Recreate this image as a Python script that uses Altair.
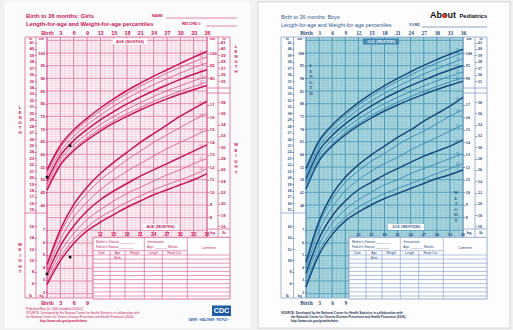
import altair as alt
import pandas as pd

# ---------------- chart values ----------------
AGES = [0, 3, 6, 9, 12, 15, 18, 21, 24, 27, 30, 33, 36]
PERCENTILES = [5, 10, 25, 50, 75, 90, 95]
MAJOR_PCTS = [5, 50, 95]

GIRLS_LENGTH = {
    5:  [45.9, 55.7, 61.4, 65.6, 69.2, 72.3, 75.0, 77.5, 79.8, 81.9, 83.8, 85.5, 87.2],
    10: [46.7, 56.5, 62.2, 66.5, 70.1, 73.2, 76.0, 78.5, 80.9, 83.0, 85.0, 86.8, 88.5],
    25: [48.1, 57.9, 63.7, 68.0, 71.7, 74.9, 77.8, 80.4, 82.8, 85.1, 87.1, 89.0, 90.8],
    50: [49.6, 59.5, 65.4, 69.8, 73.6, 76.9, 79.9, 82.6, 85.1, 87.4, 89.6, 91.6, 93.4],
    75: [51.2, 61.1, 67.1, 71.6, 75.5, 79.0, 82.1, 84.9, 87.5, 89.9, 92.1, 94.2, 96.1],
    90: [52.8, 62.6, 68.6, 73.2, 77.2, 80.8, 84.0, 86.9, 89.6, 92.1, 94.4, 96.5, 98.5],
    95: [53.8, 63.5, 69.6, 74.2, 78.3, 81.9, 85.2, 88.1, 90.9, 93.4, 95.9, 98.4, 100.6],
}
BOYS_LENGTH = {
    5:  [46.3, 57.4, 63.3, 67.7, 71.3, 74.4, 77.1, 79.5, 81.7, 83.7, 85.6, 87.3, 88.9],
    10: [47.1, 58.2, 64.1, 68.6, 72.2, 75.4, 78.1, 80.6, 82.8, 84.9, 86.8, 88.6, 90.2],
    25: [48.6, 59.7, 65.7, 70.2, 73.9, 77.2, 80.0, 82.5, 84.8, 87.0, 89.0, 90.8, 92.5],
    50: [50.3, 61.4, 67.4, 72.0, 75.8, 79.1, 82.1, 84.7, 87.1, 89.3, 91.4, 93.3, 95.1],
    75: [52.0, 63.0, 69.1, 73.7, 77.7, 81.1, 84.1, 86.8, 89.3, 91.7, 93.8, 95.8, 97.7],
    90: [53.5, 64.5, 70.6, 75.3, 79.4, 82.9, 86.0, 88.8, 91.4, 93.8, 96.0, 98.1, 100.0],
    95: [54.4, 65.4, 71.6, 76.3, 80.4, 84.0, 87.1, 90.0, 92.6, 95.1, 97.4, 99.5, 101.5],
}
GIRLS_WEIGHT = {
    5:  [2.6, 4.5, 5.9, 6.9, 7.6, 8.2, 8.8, 9.3, 9.8, 10.2, 10.6, 11.0, 11.5],
    10: [2.8, 4.8, 6.2, 7.2, 8.0, 8.6, 9.2, 9.7, 10.2, 10.6, 11.0, 11.4, 11.9],
    25: [3.1, 5.2, 6.7, 7.8, 8.6, 9.3, 9.9, 10.4, 10.9, 11.4, 11.8, 12.3, 12.7],
    50: [3.4, 5.7, 7.3, 8.5, 9.4, 10.1, 10.7, 11.3, 11.8, 12.3, 12.8, 13.3, 13.8],
    75: [3.7, 6.2, 8.0, 9.2, 10.2, 11.0, 11.7, 12.3, 12.9, 13.5, 14.0, 14.5, 15.0],
    90: [4.0, 6.7, 8.6, 9.9, 11.0, 11.8, 12.6, 13.3, 14.0, 14.6, 15.2, 15.8, 16.3],
    95: [4.2, 7.0, 9.0, 10.4, 11.5, 12.4, 13.2, 14.0, 14.7, 15.4, 16.1, 16.7, 17.3],
}
BOYS_WEIGHT = {
    5:  [2.4, 5.0, 6.6, 7.7, 8.4, 9.0, 9.5, 9.9, 10.3, 10.7, 11.1, 11.4, 11.8],
    10: [2.7, 5.3, 6.9, 8.0, 8.8, 9.4, 9.9, 10.3, 10.7, 11.1, 11.5, 11.9, 12.3],
    25: [3.1, 5.8, 7.5, 8.6, 9.4, 10.0, 10.6, 11.0, 11.5, 11.9, 12.3, 12.7, 13.1],
    50: [3.5, 6.3, 8.1, 9.3, 10.2, 10.8, 11.4, 11.9, 12.4, 12.9, 13.3, 13.7, 14.2],
    75: [3.9, 6.9, 8.8, 10.1, 11.0, 11.7, 12.3, 12.8, 13.4, 13.9, 14.4, 14.9, 15.4],
    90: [4.2, 7.4, 9.4, 10.8, 11.7, 12.5, 13.1, 13.8, 14.4, 14.9, 15.5, 16.1, 16.6],
    95: [4.4, 7.7, 9.8, 11.2, 12.2, 13.0, 13.7, 14.4, 15.0, 15.7, 16.3, 16.9, 17.6],
}
GIRLS_VISIT_AGE = [0, 5.2]
GIRLS_VISIT_LENGTH = [51.0, 63.4]
GIRLS_VISIT_WEIGHT = [3.45, 4.8]

TOP_TICKS = [0, 3, 6, 9, 12, 15, 18, 21, 24, 27, 30, 33, 36]
BOTTOM_TICKS = [0, 3, 6, 9]
TABLE_ROW_TICKS = [12, 15, 18, 21, 24, 27, 30, 33, 36]
CM_LEFT = [40, 45, 50, 55, 60, 65, 70, 75, 80, 85, 90, 95, 100]
CM_RIGHT = [90, 95, 100]
IN_LEFT = list(range(15, 42))
IN_RIGHT = list(range(35, 42))
KG_LEFT = [2, 3, 4, 5, 6, 7]
KG_RIGHT = list(range(8, 18))
LB_LEFT = [6, 8, 10, 12, 14, 16]
LB_RIGHT = list(range(16, 39, 2))
GRID_CM = list(range(4, 107))

# ---------------- layout (page pixels) ----------------
PAGE_W, PAGE_H = 513, 330
TOP, BOT = 37, 298
CM_DOM = [3.29, 106.32]
KG_DOM = [1.52, 22.45]
IN_DOM = [v / 2.54 for v in CM_DOM]
LB_DOM = [v * 2.20462 for v in KG_DOM]
DUMMY = pd.DataFrame({"d": [0]})

GIRLS_STYLE = dict(
    x0=47, W=160, page=(5, 250), page_fill="#fcfbfb", page_stroke="#fcfbfb",
    fill="#fdf4f7", grid_minor="#f0bcd0", grid_major="#dd7aa0",
    thick="#c8135b", thin="#d85187", text="#c8135b", table="#d65186",
    font="Liberation Sans", axis_font="Liberation Sans",
    cols_left=(25, 36, 47), cols_right=(207, 218, 230),
    table_x=(93, 110, 125, 144.3, 162.3, 187.3, 230),
    length=GIRLS_LENGTH, weight=GIRLS_WEIGHT,
)
BOYS_STYLE = dict(
    x0=306, W=157, page=(258, 510), page_fill="#fdfdfd", page_stroke="#c9cdd0",
    fill="#a9d5de", grid_minor="#86c1cf", grid_major="#4a95b2",
    thick="#174a7e", thin="#2c7fb1", text="#1d4a7c", table="#7d96c6",
    font="Liberation Sans", axis_font="Liberation Serif",
    cols_left=(281, 293.5, 306), cols_right=(463, 475, 487),
    table_x=(349, 366, 382, 400.3, 418.7, 443.3, 487),
    length=BOYS_LENGTH, weight=BOYS_WEIGHT,
)

TABLE_TOP = 237.3
TABLE_HEAD = 250.7
TABLE_ROWS = [255, 259.1, 263.2, 267.3, 271.4, 275.5, 279.6, 283.7, 287.8, 291.9, 296]


def long_df(d):
    rows = []
    for p in PERCENTILES:
        for a, v in zip(AGES, d[p]):
            rows.append({"age": a, "value": v, "pct": p})
    return pd.DataFrame(rows)


def end_labels(d):
    rows = []
    for p in PERCENTILES:
        v = d[p][-2] * 0.45 + d[p][-1] * 0.55
        rows.append({"age": 34.7, "value": v, "lab": str(p)})
    return pd.DataFrame(rows)


def panel(st, girls):
    x0, W = st["x0"], st["W"]
    x1 = x0 + W
    xs = alt.Scale(domain=[0, 36], range=[x0, x1], nice=False, zero=False)
    cm_sc = alt.Scale(domain=CM_DOM, range=[BOT, TOP], nice=False, zero=False)
    kg_sc = alt.Scale(domain=KG_DOM, range=[BOT, TOP], nice=False, zero=False)
    in_sc = alt.Scale(domain=IN_DOM, range=[BOT, TOP], nice=False, zero=False)
    lb_sc = alt.Scale(domain=LB_DOM, range=[BOT, TOP], nice=False, zero=False)

    def ax(orient, values, pos, **kw):
        if orient == "left":
            off = -pos
        elif orient == "right":
            off = pos - PAGE_W
        elif orient == "top":
            off = -pos
        else:
            off = pos - PAGE_H
        base = dict(orient=orient, values=values, offset=off,
                    labelFont=st["axis_font"], labelFontSize=4.2, labelFontWeight="bold",
                    labelColor=st["text"], tickColor=st["text"], tickSize=1.5, tickWidth=0.6,
                    domain=False, grid=False, title=None, labelPadding=0.8, zindex=1,
                    labelOverlap=False, labelFlush=False)
        base.update(kw)
        return alt.Axis(**base)

    def txt(s, px, py, size, color=None, weight="normal", align="left", font=None,
            baseline="middle", line_height=None):
        props = dict(fontSize=size, color=color or st["text"], fontWeight=weight,
                     align=align, font=font or st["font"], baseline=baseline)
        if line_height:
            props.update(lineBreak="\n", lineHeight=line_height)
        return alt.Chart(DUMMY).mark_text(**props).encode(
            x=alt.value(px), y=alt.value(py), text=alt.value(s))

    def prect(a, b, c, d, fill, stroke=None, sw=0.6):
        props = dict(fill=fill)
        if stroke:
            props.update(stroke=stroke, strokeWidth=sw)
        return alt.Chart(DUMMY).mark_rect(**props).encode(
            x=alt.value(a), x2=alt.value(b), y=alt.value(c), y2=alt.value(d))

    def segs_layer(segs, color, sw):
        df = pd.DataFrame([{"a": a, "b": b, "c": c, "d": d} for a, b, c, d in segs])
        return alt.Chart(df).mark_rule(color=color, strokeWidth=sw).encode(
            x=alt.X("a:Q", scale=None, axis=None), x2="b:Q",
            y=alt.Y("c:Q", scale=None, axis=None), y2="d:Q")

    layers = []
    # page and grid background
    layers.append(prect(st["page"][0], st["page"][1], 2, 328, st["page_fill"], st["page_stroke"], 0.8))
    layers.append(prect(x0, x1, TOP, BOT, st["fill"]))

    # grid
    layers.append(alt.Chart(pd.DataFrame({"m": list(range(37))})).mark_rule(
        color=st["grid_minor"], strokeWidth=0.5).encode(
        x=alt.X("m:Q", scale=xs, axis=None), y=alt.value(TOP), y2=alt.value(BOT)))
    layers.append(alt.Chart(pd.DataFrame({"c": GRID_CM})).mark_rule(
        color=st["grid_minor"], strokeWidth=0.45).encode(
        y=alt.Y("c:Q", scale=cm_sc, axis=None), x=alt.value(x0), x2=alt.value(x1)))
    layers.append(alt.Chart(pd.DataFrame({"m": TOP_TICKS})).mark_rule(
        color=st["grid_major"], strokeWidth=0.9).encode(
        x=alt.X("m:Q", scale=xs,
                axis=ax("top", TOP_TICKS, TOP, labelFontSize=5.4, tickSize=0, labelPadding=1.5,
                        labelExpr="datum.value == 0 ? 'Birth' : datum.label")),
        y=alt.value(TOP), y2=alt.value(BOT)))
    layers.append(alt.Chart(pd.DataFrame({"c": [v for v in GRID_CM if v % 5 == 0]})).mark_rule(
        color=st["grid_major"], strokeWidth=0.8).encode(
        y=alt.Y("c:Q", scale=cm_sc, axis=ax("left", CM_LEFT, x0)),
        x=alt.value(x0), x2=alt.value(x1)))

    # column / frame lines
    cl, cr = st["cols_left"], st["cols_right"]
    tx = st["table_x"]
    segs = []
    for c in cl:
        segs.append((c, c, TOP, BOT))
    for c in cr:
        segs.append((c, c, TOP, TABLE_TOP))
    segs += [(cl[0], cr[2], TOP, TOP), (cl[0], tx[0], BOT, BOT), (cl[0], cl[2], 213, 213),
             (cr[0], cr[2], 88, 88), (cr[0], cr[2], 93, 93), (cr[0], cr[2], 229, 229)]
    layers.append(segs_layer(segs, st["table"], 0.7))

    thick = alt.FieldOneOfPredicate(field="pct", oneOf=MAJOR_PCTS)
    layers.append(alt.Chart(long_df(st["length"])).mark_line(interpolate="monotone").encode(
        x=alt.X("age:Q", scale=xs, axis=None),
        y=alt.Y("value:Q", scale=cm_sc, axis=ax("right", CM_RIGHT, x1)),
        detail="pct:N",
        color=alt.condition(thick, alt.value(st["thick"]), alt.value(st["thin"])),
        strokeWidth=alt.condition(thick, alt.value(1.5), alt.value(0.8))))
    layers.append(alt.Chart(end_labels(st["length"])).mark_text(
        fontSize=3.0, color=st["thin"], dy=-2.2, font=st["font"]).encode(
        x=alt.X("age:Q", scale=xs, axis=None), y=alt.Y("value:Q", scale=cm_sc, axis=None), text="lab:N"))
    layers.append(alt.Chart(long_df(st["weight"])).mark_line(interpolate="monotone").encode(
        x=alt.X("age:Q", scale=xs, axis=None),
        y=alt.Y("value:Q", scale=kg_sc, axis=ax("right", KG_RIGHT, x1)),
        detail="pct:N",
        color=alt.condition(thick, alt.value(st["thick"]), alt.value(st["thin"])),
        strokeWidth=alt.condition(thick, alt.value(1.5), alt.value(0.8))))
    layers.append(alt.Chart(end_labels(st["weight"])).mark_text(
        fontSize=3.0, color=st["thin"], dy=-2.2, font=st["font"]).encode(
        x=alt.X("age:Q", scale=xs, axis=None), y=alt.Y("value:Q", scale=kg_sc, axis=None), text="lab:N"))

    if girls:
        vis = pd.DataFrame({"age": GIRLS_VISIT_AGE, "len": GIRLS_VISIT_LENGTH, "wt": GIRLS_VISIT_WEIGHT})
        layers.append(alt.Chart(vis).mark_square(size=7, color="#111111", opacity=1).encode(
            x=alt.X("age:Q", scale=xs, axis=None), y=alt.Y("len:Q", scale=cm_sc, axis=None)))
        layers.append(alt.Chart(vis).mark_square(size=7, color="#111111", opacity=1).encode(
            x=alt.X("age:Q", scale=xs, axis=None), y=alt.Y("wt:Q", scale=kg_sc, axis=None)))

    # record table
    layers.append(prect(tx[0], tx[-1], TABLE_TOP, BOT + 1, "#ffffff", st["table"], 0.8))
    tsegs = [(tx[0], tx[5], TABLE_HEAD, TABLE_HEAD)]
    for r in TABLE_ROWS:
        tsegs.append((tx[0], tx[6], r, r))
    for i in (1, 2, 4):
        tsegs.append((tx[i], tx[i], TABLE_HEAD, BOT + 1))
    for i in (3, 5):
        tsegs.append((tx[i], tx[i], TABLE_TOP, BOT + 1))
    layers.append(segs_layer(tsegs, st["table"], 0.6))
    ts = 3.2
    layers += [
        txt("Mother's Stature ________", tx[0] + 3, 242, ts),
        txt("Father's Stature ________", tx[0] + 3, 247, ts),
        txt("Gestational", tx[3] + 3, 241.5, ts),
        txt("Age: _______ Weeks", tx[3] + 3, 247, ts),
        txt("Comment", (tx[5] + tx[6]) / 2, 248, ts, align="center"),
        txt("Date", (tx[0] + tx[1]) / 2, 253, ts, align="center"),
        txt("Age", (tx[1] + tx[2]) / 2, 253, ts, align="center"),
        txt("Weight", (tx[2] + tx[3]) / 2, 253, ts, align="center"),
        txt("Length", (tx[3] + tx[4]) / 2, 253, ts, align="center"),
        txt("Head Circ.", (tx[4] + tx[5]) / 2, 253, ts, align="center"),
        txt("Birth", (tx[1] + tx[2]) / 2, 257.5, ts, align="center"),
    ]

    # age row above the table
    layers.append(alt.Chart(pd.DataFrame({"m": TABLE_ROW_TICKS})).mark_text(
        fontSize=4.6, fontWeight="bold", color=st["text"], font=st["axis_font"]).encode(
        x=alt.X("m:Q", scale=xs, axis=None), y=alt.value(234.5), text="m:Q"))

    # invisible axis carriers
    def carrier(values, scale, axis):
        return alt.Chart(pd.DataFrame({"v": values})).mark_rule(opacity=0).encode(
            y=alt.Y("v:Q", scale=scale, axis=axis), x=alt.value(x0), x2=alt.value(x0 + 1))
    layers.append(carrier(KG_LEFT, kg_sc, ax("left", KG_LEFT, x0)))
    layers.append(carrier(IN_LEFT, in_sc, ax("left", IN_LEFT, cl[1])))
    layers.append(carrier(LB_LEFT, lb_sc, ax("left", LB_LEFT, cl[1])))
    layers.append(carrier(IN_RIGHT, in_sc, ax("right", IN_RIGHT, cr[1])))
    layers.append(carrier(LB_RIGHT, lb_sc, ax("right", LB_RIGHT, cr[1])))
    layers.append(alt.Chart(pd.DataFrame({"m": BOTTOM_TICKS})).mark_rule(opacity=0).encode(
        x=alt.X("m:Q", scale=xs,
                axis=ax("bottom", BOTTOM_TICKS, BOT, labelFontSize=5.4, tickSize=0, labelPadding=2,
                        labelExpr="datum.value == 0 ? 'Birth' : datum.label")),
        y=alt.value(BOT), y2=alt.value(BOT + 1)))

    # column headers
    hs = 3.4
    layers += [
        txt("in", (cl[0] + cl[1]) / 2, 38.9, hs, weight="bold", align="center"),
        txt("cm", (cl[1] + cl[2]) / 2, 38.9, hs, weight="bold", align="center"),
        txt("cm", (cr[0] + cr[1]) / 2, 38.9, hs, weight="bold", align="center"),
        txt("in", (cr[1] + cr[2]) / 2, 38.9, hs, weight="bold", align="center"),
        txt("lb", (cl[0] + cl[1]) / 2, 296.3, hs, weight="bold", align="center"),
        txt("kg", (cl[1] + cl[2]) / 2, 296.3, hs, weight="bold", align="center"),
        txt("kg", (cr[0] + cr[1]) / 2, 233, hs + 0.6, weight="bold", align="center"),
        txt("lb", (cr[1] + cr[2]) / 2, 233, hs + 0.6, weight="bold", align="center"),
    ]

    if girls:
        layers += [
            txt("Birth to 36 months: Girls", 26, 15.5, 5.8, weight="bold"),
            txt("Length-for-age and Weight-for-age percentiles", 26, 23.5, 5.8, weight="bold"),
            txt("NAME", 152, 16, 3.6, weight="bold"),
            txt("RECORD #", 182, 24, 3.6, weight="bold"),
            segs_layer([(166, 237, 18, 18), (206, 237, 26, 26)], st["text"], 0.5),
            txt("L\nE\nN\nG\nT\nH", 20, 106, 4.4, weight="bold", align="center", baseline="top", line_height=5),
            txt("W\nE\nI\nG\nH\nT", 20, 243, 4.4, weight="bold", align="center", baseline="top", line_height=5.4),
            txt("L\nE\nN\nG\nT\nH", 236, 45, 4.4, weight="bold", align="center", baseline="top", line_height=5),
            txt("W\nE\nI\nG\nH\nT", 236, 143, 4.4, weight="bold", align="center", baseline="top", line_height=5.5),
            prect(113, 147, 38.5, 44.5, "#ffffff"),
            txt("AGE (MONTHS)", 130, 41.5, 3.8, weight="bold", align="center"),
            prect(143, 178, 224, 230, "#ffffff"),
            txt("AGE (MONTHS)", 160.5, 227, 3.8, weight="bold", align="center"),
            txt("Published May 30, 2000 (modified 4/20/01).", 26, 309, 3.0),
            txt("SOURCE: Developed by the National Center for Health Statistics in collaboration with", 26, 313, 3.0),
            txt("the National Center for Chronic Disease Prevention and Health Promotion (2000).", 26, 317, 3.0),
            txt("http://www.cdc.gov/growthcharts", 40, 321, 3.0, weight="bold"),
            prect(212, 231, 305.5, 316, "#1f5ba3"),
            txt("CDC", 221.5, 311, 7.2, color="#ffffff", weight="bold", align="center"),
            txt("SAFER \u00b7 HEALTHIER \u00b7 PEOPLE\u2122", 209, 320, 2.6, color="#1f5ba3", weight="bold", align="center"),
        ]
    else:
        layers += [
            txt("Birth to 36 months: Boys", 281, 17, 5.4, color="#2a5a8c"),
            txt("Length-for-age and Weight-for-age percentiles", 281, 25, 5.4, color="#2a5a8c"),
            txt("About", 430, 15, 9.0, color="#111111", weight="bold", font="Liberation Sans"),
            alt.Chart(DUMMY).mark_circle(size=16, color="#e2322c", opacity=1).encode(
                x=alt.value(444.6), y=alt.value(16.2)),
            txt("Pediatrics", 459.5, 15.8, 5.8, color="#111111", weight="bold", font="Liberation Sans"),
            txt("NAME", 409, 25, 3.6, weight="bold", font="Liberation Serif"),
            segs_layer([(422, 487, 27, 27)], st["text"], 0.5),
            txt("L\nE\nN\nG\nT\nH", 311, 64, 4.4, weight="bold", align="center", baseline="top",
                line_height=5.6, font="Liberation Serif"),
            txt("W\nE\nI\nG\nH\nT", 456, 191, 4.4, weight="bold", align="center", baseline="top",
                line_height=5.6, font="Liberation Serif"),
            prect(363, 399, 38.5, 44.5, "#3f86b3"),
            txt("AGE (MONTHS)", 381, 41.5, 3.8, color="#ffffff", weight="bold", align="center",
                font="Liberation Serif"),
            prect(388, 424, 224, 230, "#ffffff"),
            txt("AGE (MONTHS)", 406, 227, 3.8, weight="bold", align="center", font="Liberation Serif"),
            txt("SOURCE:  Developed by the National Center for Health Statistics in collaboration with", 281, 313, 3.0,
                color="#1b2f4f", weight="bold"),
            txt("the National Center for Chronic Disease Prevention and Health Promotion (2000).", 291, 317, 3.0,
                color="#1b2f4f", weight="bold"),
            txt("http://www.cdc.gov/growthcharts", 291, 321, 3.0, color="#1b2f4f", weight="bold"),
        ]
    return layers


all_layers = panel(GIRLS_STYLE, True) + panel(BOYS_STYLE, False)

chart = alt.layer(*all_layers).properties(
    width=PAGE_W, height=PAGE_H,
    autosize=alt.AutoSizeParams(type="none"),
    padding=0,
).resolve_scale(x="independent", y="independent").resolve_axis(
    x="independent", y="independent"
).configure(background="#f1f1f1").configure_view(stroke=None)

chart.save("out.html", embed_options={"renderer": "svg", "actions": False})
